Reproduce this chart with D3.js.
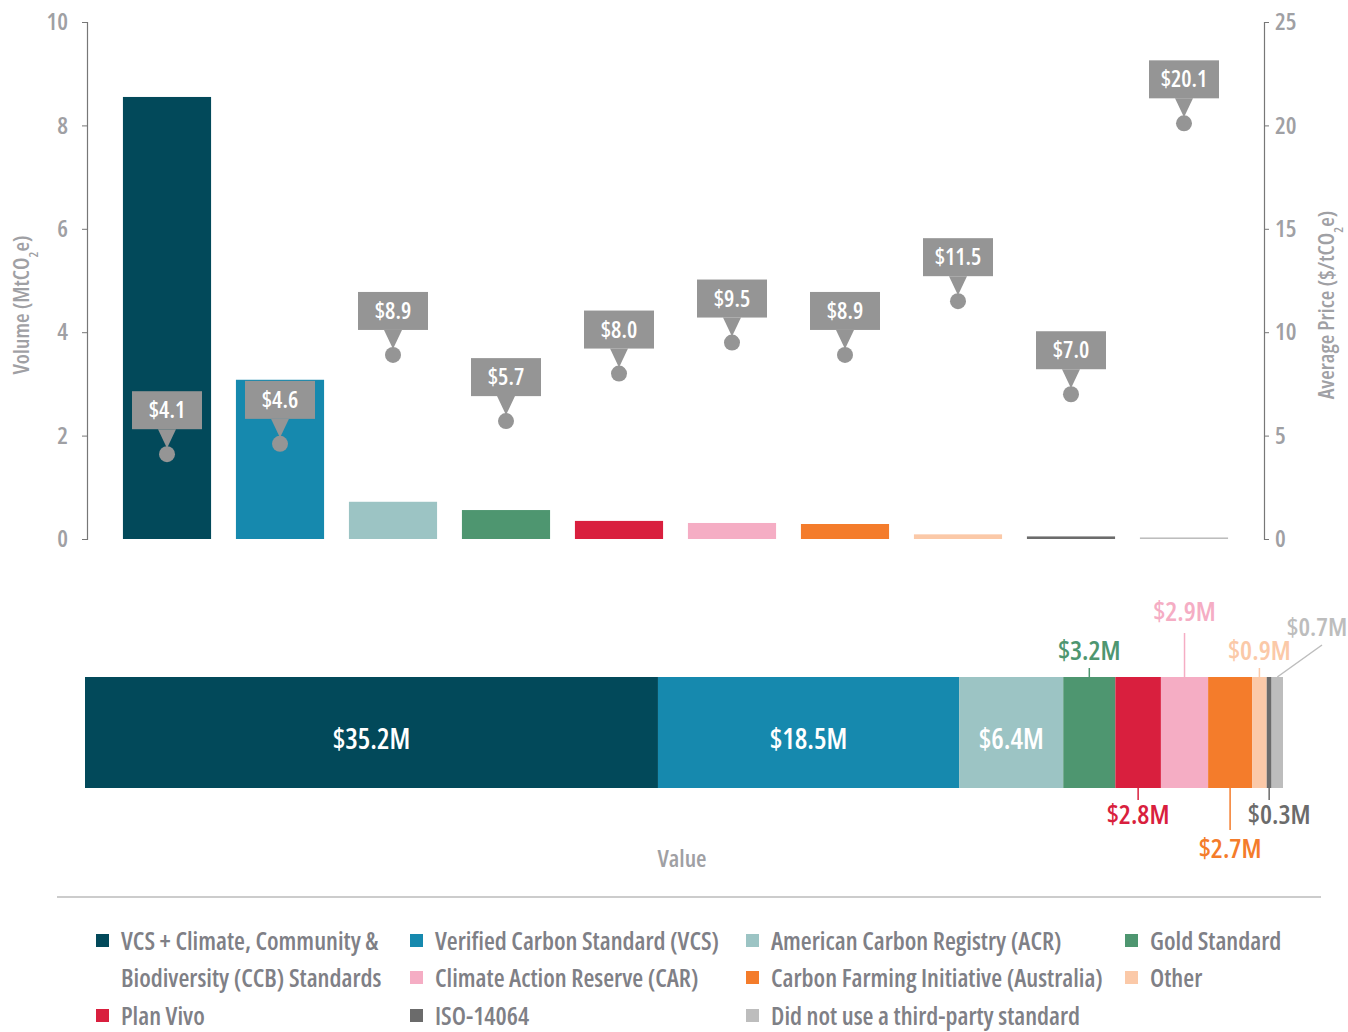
<!DOCTYPE html>
<html>
<head>
<meta charset="utf-8">
<script src="https://cdn.jsdelivr.net/npm/d3@7"></script>
<style>
  body { margin: 0; background: #fff; }
  svg text { font-family: "Open Sans", sans-serif; font-stretch: condensed; font-weight: 600; }
</style>
</head>
<body>
<svg id="chart"></svg>
<script>
const width = 1348;
const height = 1032;

// data
const standards = [
  "VCS + Climate, Community & Biodiversity (CCB) Standards",
  "Verified Carbon Standard (VCS)",
  "American Carbon Registry (ACR)",
  "Gold Standard",
  "Plan Vivo",
  "Climate Action Reserve (CAR)",
  "Carbon Farming Initiative (Australia)",
  "Other",
  "ISO-14064",
  "Did not use a third-party standard"
];
const colors = ["#02495a", "#1689ae", "#9cc4c4", "#4e9670", "#d91f3e", "#f5adc4", "#f47c2b", "#fbc9a8", "#6b6b6b", "#bdbdbd"];
const volumes = [8.55, 3.08, 0.72, 0.56, 0.35, 0.31, 0.29, 0.09, 0.05, 0.03];
const prices = [4.1, 4.6, 8.9, 5.7, 8.0, 9.5, 8.9, 11.5, 7.0, 20.1];
const values = [35.2, 18.5, 6.4, 3.2, 2.8, 2.9, 2.7, 0.9, 0.3, 0.7];
const volumeTicks = [0, 2, 4, 6, 8, 10];
const priceTicks = [0, 5, 10, 15, 20, 25];

const gray = "#9fa0a4";
const textGray = "#7f8086";

const svg = d3.select("#chart").attr("width", width).attr("height", height);

// top chart scales
const x = d3.scaleBand()
  .domain(d3.range(standards.length))
  .range([87, 1264])
  .paddingInner(0.22)
  .paddingOuter(0.318);
const yVol = d3.scaleLinear().domain([0, 10]).range([539, 22]);
const yPrice = d3.scaleLinear().domain([0, 25]).range([539, 22]);

// axes
const leftAxis = svg.append("g")
  .attr("transform", "translate(87,0)")
  .call(d3.axisLeft(yVol).tickValues(volumeTicks).tickSize(5).tickPadding(14));
const rightAxis = svg.append("g")
  .attr("transform", "translate(1264,0)")
  .call(d3.axisRight(yPrice).tickValues(priceTicks).tickSize(5).tickPadding(6));
[leftAxis, rightAxis].forEach((a) => {
  a.select(".domain").attr("stroke", "#777").attr("stroke-width", 1.2);
  a.selectAll(".tick line").attr("stroke", "#777");
  a.selectAll(".tick text").attr("fill", gray).attr("font-size", 24);
});

// axis titles
svg.append("text")
  .attr("transform", "translate(29,305) rotate(-90)")
  .attr("text-anchor", "middle")
  .attr("fill", gray)
  .attr("font-size", 22)
  .html('Volume (MtCO<tspan baseline-shift="sub" font-size="13">2</tspan>e)');
svg.append("text")
  .attr("transform", "translate(1334,305) rotate(-90)")
  .attr("text-anchor", "middle")
  .attr("fill", gray)
  .attr("font-size", 22)
  .html('Average Price ($/tCO<tspan baseline-shift="sub" font-size="13">2</tspan>e)');

// volume bars
svg.append("g")
  .selectAll("rect")
  .data(volumes)
  .enter()
  .append("rect")
  .attr("x", (d, i) => x(i))
  .attr("y", (d) => yVol(d))
  .attr("width", x.bandwidth())
  .attr("height", (d) => yVol(0) - yVol(d))
  .attr("fill", (d, i) => colors[i]);

// price markers with callouts
const calloutColor = "#959595";
const marker = svg.append("g")
  .selectAll("g")
  .data(prices)
  .enter()
  .append("g")
  .attr("transform", (d, i) => `translate(${x(i) + x.bandwidth() / 2},${yPrice(d)})`);

marker.append("circle").attr("r", 8).attr("fill", calloutColor);
marker.append("path")
  .attr("d", "M-9,-25 L9,-25 L0,-6 Z")
  .attr("fill", calloutColor);
marker.append("rect")
  .attr("x", -35)
  .attr("y", -63)
  .attr("width", 70)
  .attr("height", 38)
  .attr("fill", calloutColor);
marker.append("text")
  .attr("y", -36)
  .attr("text-anchor", "middle")
  .attr("fill", "#fff")
  .attr("font-size", 23)
  .attr("font-weight", 700)
  .text((d) => "$" + d.toFixed(1));

// stacked value bar
const xVal = d3.scaleLinear().domain([0, d3.sum(values)]).range([85, 1283]);
const starts = values.map((v, i) => d3.sum(values.slice(0, i)));
const barTop = 677;
const barBottom = 788;

svg.append("g")
  .selectAll("rect")
  .data(values)
  .enter()
  .append("rect")
  .attr("x", (d, i) => xVal(starts[i]))
  .attr("y", barTop)
  .attr("width", (d) => xVal(d) - xVal(0))
  .attr("height", barBottom - barTop)
  .attr("fill", (d, i) => colors[i]);

// inside labels (first three)
svg.append("g")
  .selectAll("text")
  .data(values.slice(0, 3))
  .enter()
  .append("text")
  .attr("x", (d, i) => xVal(starts[i] + d / 2))
  .attr("y", 739)
  .attr("dy", "0.35em")
  .attr("text-anchor", "middle")
  .attr("fill", "#fff")
  .attr("font-size", 28)
  .text((d) => "$" + d.toFixed(1) + "M");

// outside labels: leader line end and label position
const outside = [
  { i: 3, y2: 668, ty: 651 },
  { i: 4, y2: 800, ty: 815 },
  { i: 5, y2: 633, ty: 612 },
  { i: 6, y2: 830, ty: 849 },
  { i: 7, y2: 668, ty: 651 },
  { i: 8, y2: 800, ty: 815, dx: 10 }
];

const outG = svg.append("g");
outside.forEach((o) => {
  const cx = xVal(starts[o.i] + values[o.i] / 2);
  const fromY = o.y2 < barTop ? barTop : barBottom;
  outG.append("line")
    .attr("x1", cx).attr("x2", cx)
    .attr("y1", fromY).attr("y2", o.y2)
    .attr("stroke", colors[o.i])
    .attr("stroke-width", 1.5);
  outG.append("text")
    .attr("x", cx + (o.dx || 0))
    .attr("y", o.ty)
    .attr("dy", "0.35em")
    .attr("text-anchor", "middle")
    .attr("fill", colors[o.i])
    .attr("font-size", 27)
    .text("$" + values[o.i].toFixed(1) + "M");
});
// last segment, diagonal leader
outG.append("line")
  .attr("x1", xVal(starts[9] + values[9] / 2)).attr("y1", barTop)
  .attr("x2", 1322).attr("y2", 645)
  .attr("stroke", colors[9])
  .attr("stroke-width", 1.5);
outG.append("text")
  .attr("x", 1317)
  .attr("y", 627)
  .attr("dy", "0.35em")
  .attr("text-anchor", "middle")
  .attr("fill", colors[9])
  .attr("font-size", 26)
  .text("$" + values[9].toFixed(1) + "M");

svg.append("text")
  .attr("x", 682)
  .attr("y", 859)
  .attr("dy", "0.35em")
  .attr("text-anchor", "middle")
  .attr("fill", gray)
  .attr("font-size", 24)
  .text("Value");

// separator
svg.append("line")
  .attr("x1", 57).attr("x2", 1321)
  .attr("y1", 897).attr("y2", 897)
  .attr("stroke", "#9a9a9a")
  .attr("stroke-width", 1.2);

// legend
const legendCols = [96, 410, 746, 1125];
const legendRows = [941, 978, 1016];
const legendItems = [
  { k: 0, c: 0, r: 0, lines: ["VCS + Climate, Community &", "Biodiversity (CCB) Standards"] },
  { k: 1, c: 1, r: 0 },
  { k: 2, c: 2, r: 0 },
  { k: 3, c: 3, r: 0 },
  { k: 5, c: 1, r: 1 },
  { k: 6, c: 2, r: 1 },
  { k: 7, c: 3, r: 1 },
  { k: 4, c: 0, r: 2 },
  { k: 8, c: 1, r: 2 },
  { k: 9, c: 2, r: 2 }
];
const legend = svg.append("g")
  .selectAll("g")
  .data(legendItems)
  .enter()
  .append("g")
  .attr("transform", (d) => `translate(${legendCols[d.c]},${legendRows[d.r]})`);

legend.append("rect")
  .attr("x", 0).attr("y", -7)
  .attr("width", 13).attr("height", 13)
  .attr("fill", (d) => colors[d.k]);
legend.append("text")
  .attr("x", 25)
  .attr("fill", textGray)
  .attr("font-size", 25)
  .selectAll("tspan")
  .data((d) => d.lines || [standards[d.k]])
  .enter()
  .append("tspan")
  .attr("x", 25)
  .attr("y", (d, i) => i * 37)
  .attr("dy", "0.35em")
  .text((d) => d);
</script>
</body>
</html>
